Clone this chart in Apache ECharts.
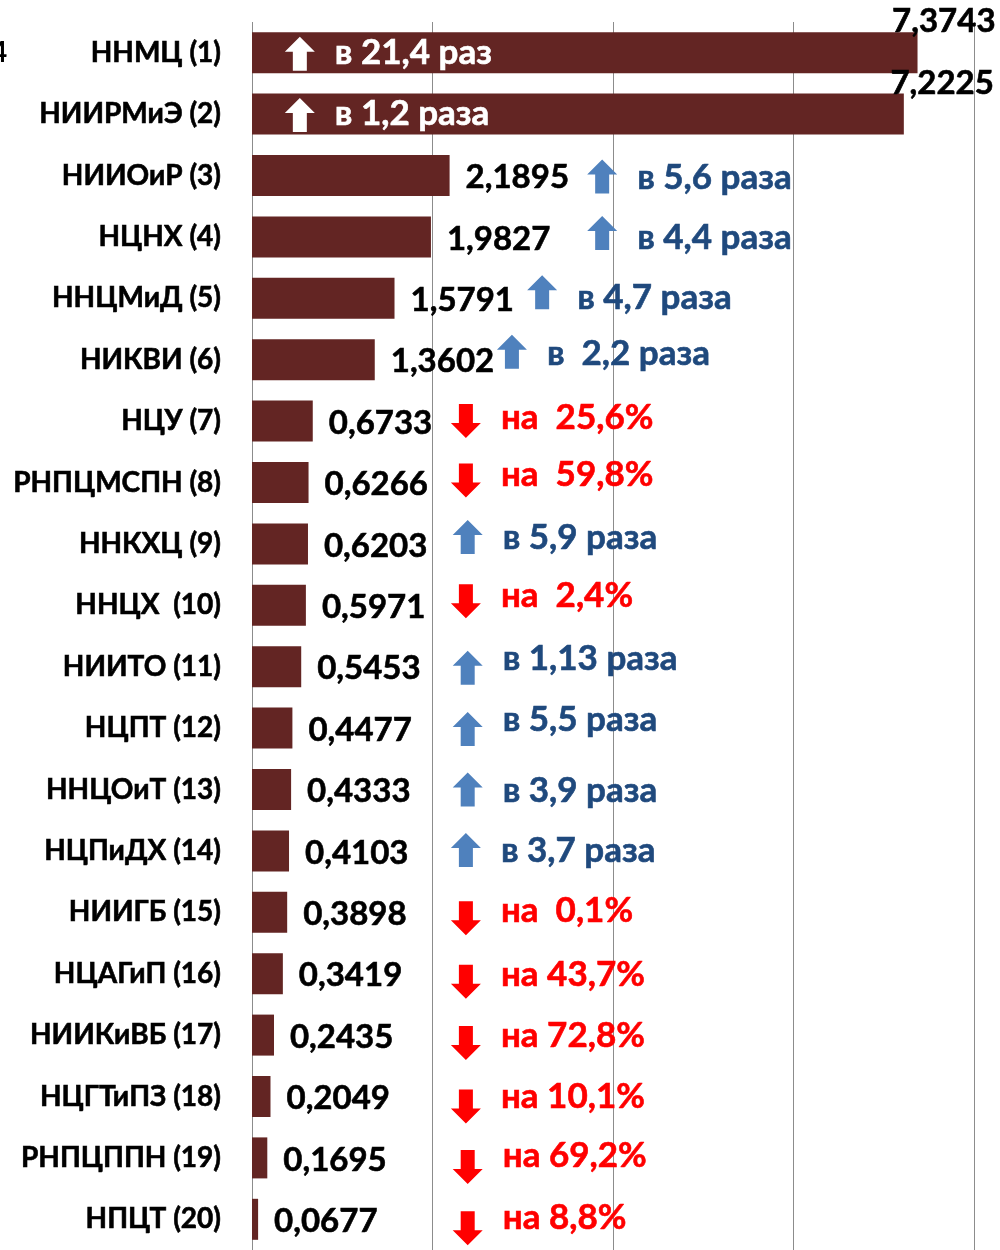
<!DOCTYPE html>
<html>
<head>
<meta charset="utf-8">
<script src="https://cdn.jsdelivr.net/npm/echarts@6/dist/echarts.min.js"></script>
<style>
  html, body { margin: 0; padding: 0; background: #fff; }
  #chart { width: 1000px; height: 1250px; }
</style>
</head>
<body>
<div id="chart"></div>
<script>
const categories = ['ННМЦ (1)', 'НИИРМиЭ (2)', 'НИИОиР (3)', 'НЦНХ (4)', 'ННЦМиД (5)', 'НИКВИ (6)', 'НЦУ (7)', 'РНПЦМСПН (8)', 'ННКХЦ (9)', 'ННЦХ  (10)', 'НИИТО (11)', 'НЦПТ (12)', 'ННЦОиТ (13)', 'НЦПиДХ (14)', 'НИИГБ (15)', 'НЦАГиП (16)', 'НИИКиВБ (17)', 'НЦГТиПЗ (18)', 'РНПЦППН (19)', 'НПЦТ (20)'];
const values = [7.3743, 7.2225, 2.1895, 1.9827, 1.5791, 1.3602, 0.6733, 0.6266, 0.6203, 0.5971, 0.5453, 0.4477, 0.4333, 0.4103, 0.3898, 0.3419, 0.2435, 0.2049, 0.1695, 0.0677];
const changes = ['в 21,4 раз', 'в 1,2 раза', 'в 5,6 раза', 'в 4,4 раза', 'в 4,7 раза', 'в  2,2 раза', 'на  25,6%', 'на  59,8%', 'в 5,9 раза', 'на  2,4%', 'в 1,13 раза', 'в 5,5 раза', 'в 3,9 раза', 'в 3,7 раза', 'на  0,1%', 'на 43,7%', 'на 72,8%', 'на 10,1%', 'на 69,2%', 'на 8,8%'];
const directions = ['up', 'up', 'up', 'up', 'up', 'up', 'down', 'down', 'up', 'down', 'up', 'up', 'up', 'up', 'down', 'down', 'down', 'down', 'down', 'down'];
const xTicks = [0, 2, 4, 6, 8];

// where the arrow of each note sits (axis units) and small vertical nudges (px)
const noteAt = [0.53, 0.53, 3.88, 3.88, 3.215, 2.88, 2.37, 2.37, 2.39, 2.37, 2.39, 2.39, 2.39, 2.37, 2.37, 2.37, 2.37, 2.37, 2.39, 2.39];
const arrowDy = [1, 1, 1, -4, -6, -8, 0, -2, -7, -4, 1, 1, 0, -1, 6, 8, 8, 10, 9, 9];
const textDy = [0, 0, 2, 1, -1, -6, -3, -8, -6, -10, -8, -8, 1, 0, -2, 1, 1, 0, -2, -2];

const FONT = 'Lato, "Noto Sans", sans-serif';
const BAR = '#632523';

var chart = echarts.init(document.getElementById('chart'));

const barData = values.map(function (v, i) {
  const item = { value: v };
  if (i === 0) item.label = { align: 'right', offset: [62, -31] };
  if (i === 1) item.label = { align: 'right', offset: [74, -31] };
  return item;
});

function arrowPoints(cx, cy, up) {
  const w = 30, h = 34, head = 15, sw = 14;
  const t = cy - h / 2, b = cy + h / 2;
  if (up) {
    return [[cx, t], [cx + w / 2, t + head], [cx + sw / 2, t + head], [cx + sw / 2, b],
            [cx - sw / 2, b], [cx - sw / 2, t + head], [cx - w / 2, t + head]];
  }
  return [[cx, b], [cx + w / 2, b - head], [cx + sw / 2, b - head], [cx + sw / 2, t],
          [cx - sw / 2, t], [cx - sw / 2, b - head], [cx - w / 2, b - head]];
}

let option = {
  animation: false,
  backgroundColor: '#fff',
  grid: { left: 252, width: 722, top: 22, height: 1232 },
  xAxis: {
    type: 'value',
    min: xTicks[0],
    max: xTicks[xTicks.length - 1],
    interval: xTicks[1] - xTicks[0],
    axisLabel: { show: false },
    axisLine: { show: false },
    axisTick: { show: false },
    splitLine: { show: true, lineStyle: { color: '#8c8c8c', width: 1 } }
  },
  yAxis: {
    type: 'category',
    data: categories,
    inverse: true,
    axisLine: { show: false },
    axisTick: { show: false },
    axisLabel: {
      margin: 31,
      color: '#000',
      fontFamily: FONT,
      fontWeight: 'bold',
      fontSize: 28,
      textBorderColor: '#000',
      textBorderWidth: 0.6
    }
  },
  graphic: [{
    type: 'text',
    style: { x: -9, y: 53, text: '4', fill: '#000', font: 'bold 28px ' + FONT, verticalAlign: 'middle' }
  }],
  series: [
    {
      type: 'bar',
      data: barData,
      barWidth: 41,
      itemStyle: { color: BAR },
      label: {
        show: true,
        position: 'right',
        distance: 16,
        offset: [0, 2],
        color: '#000',
        fontFamily: FONT,
        fontWeight: 'bold',
        fontSize: 33,
        textBorderColor: '#000',
        textBorderWidth: 0.6,
        formatter: function (p) { return p.value.toFixed(4).replace('.', ','); }
      }
    },
    {
      type: 'custom',
      data: noteAt.map(function (x, i) { return [x, i]; }),
      encode: { x: 0, y: 1 },
      z: 5,
      renderItem: function (params, api) {
        const i = params.dataIndex;
        const p = api.coord([api.value(0), api.value(1)]);
        const up = directions[i] === 'up';
        let arrowColor, textColor;
        if (i < 2) { arrowColor = '#fff'; textColor = '#fff'; }
        else if (up) { arrowColor = '#4F81BD'; textColor = '#1F497D'; }
        else { arrowColor = '#FF0000'; textColor = '#FF0000'; }
        return {
          type: 'group',
          children: [
            {
              type: 'polygon',
              shape: { points: arrowPoints(p[0], p[1] + arrowDy[i], up) },
              style: { fill: arrowColor }
            },
            {
              type: 'text',
              style: {
                x: p[0] + 35,
                y: p[1] + textDy[i],
                text: changes[i],
                fill: textColor,
                stroke: textColor,
                lineWidth: 0.6,
                font: 'bold 35px ' + FONT,
                verticalAlign: 'middle'
              }
            }
          ]
        };
      }
    }
  ]
};

chart.setOption(option, true);
window.addEventListener('resize', function () { chart.resize(); });
</script>
</body>
</html>
